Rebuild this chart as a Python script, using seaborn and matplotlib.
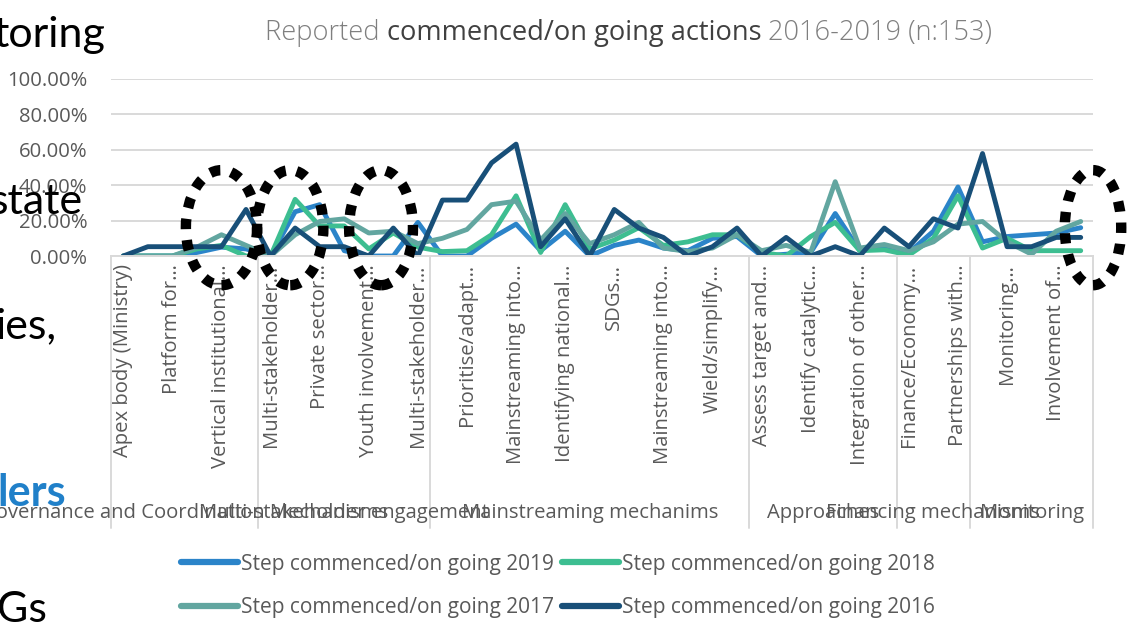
import numpy as np
import pandas as pd
import matplotlib
matplotlib.use('Agg')
import matplotlib.pyplot as plt
import matplotlib.transforms as mtransforms
from matplotlib.patches import Ellipse
from matplotlib.ticker import PercentFormatter
import seaborn as sns

# --- Data (share of countries, %) ---
tick_labels = ['Apex body (Ministry)', 'Platform for…', 'Vertical institutional…',
               'Multi-stakeholder…', 'Private sector…', 'Youth involvement…',
               'Multi-stakeholder…', 'Prioritise/adapt…', 'Mainstreaming into…',
               'Identifying national…', 'SDGs…', 'Mainstreaming into…',
               'Wield/simplify…', 'Assess target and…', 'Identify catalytic…',
               'Integration of other…', 'Finance/Economy…', 'Partnerships with…',
               'Monitoring…', 'Involvement of…']
group_names = ['Governance and Coordination Mechanisms', 'Multi-stakeholder engagement',
               'Mainstreaming mechanims', 'Approaches', 'Financing mechanisms', 'Monitoring']
group_sizes = [6, 7, 13, 6, 3, 5]

series_names = ['Step commenced/on going 2019', 'Step commenced/on going 2018',
                'Step commenced/on going 2017', 'Step commenced/on going 2016']
series_colors = ['#2B84C9', '#3DBE91', '#62A6A0', '#184F78']

vals_2019 = [0, 0, 0, 2, 5, 4, 0, 25, 29, 3, 0, 0, 19, 0, 0, 10, 18, 3, 14, 0,
             6, 9, 4.5, 3, 10, 11, 0, 1, 2, 24, 3, 5, 2, 14, 39, 8, 11, 12, 13, 16]
vals_2018 = [0, 0, 0, 4, 6, 0, 0, 32, 17, 17, 4, 13, 5, 2.5, 3, 12, 34, 2, 29, 4,
             9, 16, 6, 8, 12, 12, 2, 0, 11, 19, 3, 3.5, 0.5, 10, 34, 4.5, 10, 3, 3, 3]
vals_2017 = [0, 0, 0, 5, 12, 6, 0, 12, 19.5, 21, 13, 14, 7, 10, 15, 29, 31, 9, 24, 7,
             12, 19, 4.5, 2.5, 4.5, 12, 3, 6, 2, 42, 4.5, 6.5, 3, 8, 18, 19.5, 8, 1, 14, 19.5]
vals_2016 = [0, 5.26, 5.26, 5.26, 5.26, 26.3, 0, 15.8, 5.26, 5.26, 0, 15.8, 0, 31.6, 31.6,
             52.6, 63.2, 5.26, 21.05, 0, 26.3, 15.8, 10.5, 0, 5.26, 15.8, 0, 10.5, 0, 5.26,
             0, 15.8, 5.26, 21.05, 15.8, 57.9, 5.26, 5.26, 10.5, 10.5]

# dotted highlight ellipses: (category centre, y centre %, width in categories, height %)
highlights = [(4.0, 16, 2.9, 65), (6.8, 16, 2.7, 65), (10.5, 16, 2.6, 65), (39.5, 16, 2.3, 65)]

all_vals = [vals_2019, vals_2018, vals_2017, vals_2016]
n_cat = len(vals_2019)
df = pd.DataFrame({
    'idx': np.tile(np.arange(n_cat), len(series_names)),
    'value': np.concatenate(all_vals),
    'series': np.repeat(series_names, n_cat),
})

sns.set_style('white')
plt.rcParams['font.family'] = ['Open Sans', 'DejaVu Sans']
grey = '#595959'
fs = 14.6

fig = plt.figure(figsize=(11.35, 6.28), dpi=100)
ax = fig.add_axes([111 / 1135, 1 - 256 / 628, 982 / 1135, 177 / 628])
ax.patch.set_alpha(0)

for name, color in zip(series_names, series_colors):
    sns.lineplot(data=df[df['series'] == name], x='idx', y='value', color=color,
                 linewidth=3.5, label=name, ax=ax, sort=False, estimator=None)

ax.set_xlim(-0.5, n_cat - 0.5)
ax.set_ylim(0, 100)
ax.set_yticks(np.arange(0, 101, 20))
ax.yaxis.set_major_formatter(PercentFormatter(100, decimals=2))
ax.grid(axis='y', color='#D9D9D9', linewidth=1.4)
ax.set_axisbelow(True)
for s in ['top', 'right', 'left']:
    ax.spines[s].set_visible(False)
ax.spines['bottom'].set_color('#D9D9D9')
ax.spines['bottom'].set_linewidth(1.4)
ax.tick_params(axis='y', length=0, pad=17, labelsize=fs, labelcolor=grey)
ax.set_xticks(np.arange(0, n_cat, 2))
ax.set_xticklabels(tick_labels, rotation=90, va='top')
ax.tick_params(axis='x', length=0, pad=6, labelsize=fs, labelcolor=grey)
ax.set_xticks(np.arange(0.5, n_cat, 2), minor=True)
ax.tick_params(axis='x', which='minor', length=5, color='#BFBFBF', width=1)
ax.set_xlabel('')
ax.set_ylabel('')

# group separators and group labels of the two-level category axis
trans = mtransforms.blended_transform_factory(ax.transData, ax.transAxes)
bounds = np.concatenate([[0], np.cumsum(group_sizes)]) - 0.5
for b in bounds:
    ax.plot([b, b], [0, -1.537], transform=trans, color='#D9D9D9', lw=1.4, clip_on=False)
for name, lo, hi in zip(group_names, bounds[:-1], bounds[1:]):
    ax.text((lo + hi) / 2, -1.452, name, transform=trans, ha='center', va='center',
            fontsize=fs, color=grey)

# dotted ellipses drawn on the slide
for cx, cy, w, h in highlights:
    ax.add_patch(Ellipse((cx, cy), w, h, fill=False, edgecolor='black', lw=7.5,
                         linestyle=(0, (1, 1.05)), clip_on=False, zorder=10))

# legend (row-wise order)
handles, labels = ax.get_legend_handles_labels()
ax.legend_.remove()
order = [0, 2, 1, 3]
leg = fig.legend([handles[i] for i in order], [labels[i] for i in order], ncol=2,
                 loc='center', bbox_to_anchor=(558 / 1135, 1 - 586 / 628), frameon=False,
                 handlelength=2.75, handletextpad=0.15, columnspacing=0.35,
                 labelspacing=1.1, fontsize=15)
for t in leg.get_texts():
    t.set_color(grey)
for hl in leg.get_lines():
    hl.set_linewidth(4.5)

# title in three weights
t1 = fig.text(265 / 1135, 1 - 40 / 628, 'Reported ', fontsize=19.6, color='#7F7F7F',
              fontweight='light', va='baseline')
t2 = ax.annotate('commenced/on going actions ', xy=(1, 0), xycoords=t1, va='bottom',
                 fontsize=19.6, color='#404040', annotation_clip=False)
t3 = ax.annotate('2016-2019 (n:153)', xy=(1, 0), xycoords=t2, va='bottom',
                 fontsize=19.6, color='#7F7F7F', fontweight='light', annotation_clip=False)

# slide text peeking around the chart
slide_font = ['Lato', 'DejaVu Sans']
fig.text(105 / 1135, 1 - 47 / 628, 'toring', ha='right', va='baseline', fontsize=31,
         family=slide_font, color='black')
fig.text(83 / 1135, 1 - 214 / 628, 'state', ha='right', va='baseline', fontsize=31,
         family=slide_font, color='black')
fig.text(57 / 1135, 1 - 338 / 628, 'ies,', ha='right', va='baseline', fontsize=31,
         family=slide_font, color='black')
fig.text(66 / 1135, 1 - 506 / 628, 'lers', ha='right', va='baseline', fontsize=31,
         family=slide_font, color='#2080C9', fontweight='bold')
fig.text(47 / 1135, 1 - 622 / 628, 'Gs', ha='right', va='baseline', fontsize=31,
         family=slide_font, color='black')

fig.savefig('out.png', dpi=100)
